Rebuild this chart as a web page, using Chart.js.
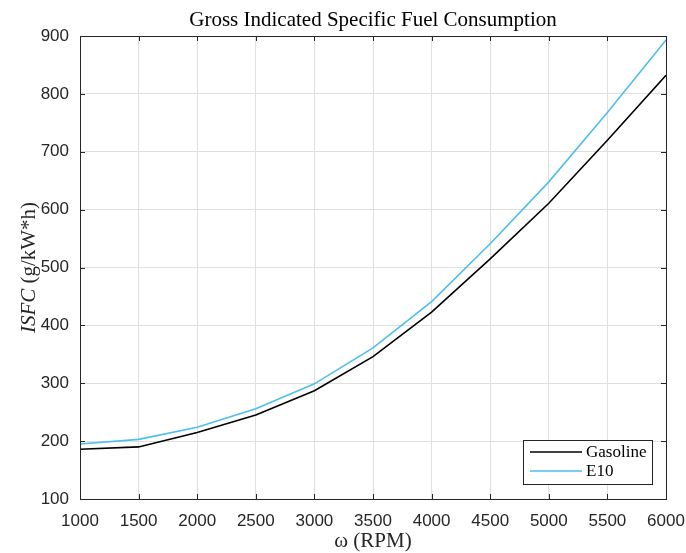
<!DOCTYPE html>
<html>
<head>
<meta charset="utf-8">
<script src="https://cdn.jsdelivr.net/npm/chart.js@4.4.1/dist/chart.umd.min.js"></script>
<style>
  html, body { margin: 0; padding: 0; background: #fff; }
  #wrap { width: 686px; height: 553px; position: relative; }
</style>
</head>
<body>
<div id="wrap"><canvas id="c" width="686" height="553"></canvas></div>
<script>
// Engine speed (RPM) and gross indicated specific fuel consumption (g/kW*h)
const rpm = [1000, 1500, 2000, 2500, 3000, 3500, 4000, 4500, 5000, 5500, 6000];
const gasolineIsfc = [186, 190, 215, 245, 287, 346, 423, 515, 611, 720, 832];
const e10Isfc = [195, 203, 224, 256, 299, 361, 441, 541, 648, 768, 893];
const xTicks = [1000, 1500, 2000, 2500, 3000, 3500, 4000, 4500, 5000, 5500, 6000];
const yTicks = [100, 200, 300, 400, 500, 600, 700, 800, 900];

const titleText = 'Gross Indicated Specific Fuel Consumption';
const axisColor = '#262626';
const gridColor = '#dfdfdf';
const serif = '"Liberation Serif", "Times New Roman", serif';
const sans = '"Liberation Sans", Arial, sans-serif';

// Title, axis titles, inward tick marks and the boxed legend
const decorations = {
  id: 'decorations',
  afterDraw(chart) {
    const ctx = chart.ctx;
    const a = chart.chartArea;
    const xs = chart.scales.x, ys = chart.scales.y;
    ctx.save();

    // inward ticks on all four sides
    ctx.strokeStyle = axisColor;
    ctx.lineWidth = 1;
    const tl = 5;
    ctx.beginPath();
    xTicks.forEach(v => {
      const px = Math.round(xs.getPixelForValue(v)) + 0.5;
      ctx.moveTo(px, a.bottom); ctx.lineTo(px, a.bottom - tl);
      ctx.moveTo(px, a.top); ctx.lineTo(px, a.top + tl);
    });
    yTicks.forEach(v => {
      const py = Math.round(ys.getPixelForValue(v)) + 0.5;
      ctx.moveTo(a.left, py); ctx.lineTo(a.left + tl, py);
      ctx.moveTo(a.right, py); ctx.lineTo(a.right - tl, py);
    });
    ctx.stroke();
    // axes box
    ctx.strokeRect(Math.round(a.left) + 0.5, Math.round(a.top) + 0.5,
                   Math.round(a.right - a.left), Math.round(a.bottom - a.top));

    // chart title
    ctx.fillStyle = '#000';
    ctx.font = '21px ' + serif;
    ctx.textAlign = 'center';
    ctx.textBaseline = 'alphabetic';
    ctx.fillText(titleText, (a.left + a.right) / 2, 26);

    // x axis title
    ctx.fillStyle = axisColor;
    ctx.font = '21px ' + serif;
    ctx.fillText('\u03c9 (RPM)', (a.left + a.right) / 2, 547);

    // y axis title: italic symbol followed by upright units
    ctx.save();
    ctx.translate(35, (a.top + a.bottom) / 2);
    ctx.rotate(-Math.PI / 2);
    const part1 = 'ISFC ';
    const part2 = '(g/kW*h)';
    ctx.font = 'italic 21px ' + serif;
    const w1 = ctx.measureText(part1).width;
    ctx.font = '21px ' + serif;
    const w2 = ctx.measureText(part2).width;
    const sx = -(w1 + w2) / 2;
    ctx.textAlign = 'left';
    ctx.font = 'italic 21px ' + serif;
    ctx.fillText(part1, sx, 0);
    ctx.font = '21px ' + serif;
    ctx.fillText(part2, sx + w1, 0);
    ctx.restore();

    // legend box in the lower right corner
    const lx = 523, ly = 440, lw = 129, lh = 44;
    ctx.fillStyle = '#fff';
    ctx.fillRect(lx, ly, lw, lh);
    ctx.strokeStyle = axisColor;
    ctx.lineWidth = 1;
    ctx.strokeRect(lx + 0.5, ly + 0.5, lw, lh);
    chart.data.datasets.forEach((ds, i) => {
      const yy = ly + 12 + i * 19;
      ctx.strokeStyle = ds.borderColor;
      ctx.lineWidth = 1.6;
      ctx.beginPath();
      ctx.moveTo(lx + 7, yy); ctx.lineTo(lx + 59, yy);
      ctx.stroke();
      ctx.fillStyle = '#000';
      ctx.font = '17px ' + serif;
      ctx.textAlign = 'left';
      ctx.textBaseline = 'middle';
      ctx.fillText(ds.label, lx + 63, yy + 1);
    });
    ctx.restore();
  }
};

new Chart(document.getElementById('c'), {
  type: 'line',
  data: {
    datasets: [
      {
        label: 'Gasoline',
        data: rpm.map((r, i) => ({ x: r, y: gasolineIsfc[i] })),
        borderColor: '#000000',
        borderWidth: 1.6,
        pointRadius: 0,
        tension: 0
      },
      {
        label: 'E10',
        data: rpm.map((r, i) => ({ x: r, y: e10Isfc[i] })),
        borderColor: '#4DBEEE',
        borderWidth: 1.6,
        pointRadius: 0,
        tension: 0
      }
    ]
  },
  options: {
    responsive: false,
    animation: false,
    devicePixelRatio: 1,
    layout: { padding: { top: 36, right: 20, left: 0, bottom: 0 } },
    plugins: {
      legend: { display: false },
      title: { display: false },
      tooltip: { enabled: false }
    },
    scales: {
      x: {
        type: 'linear',
        min: 1000,
        max: 6000,
        afterFit(s) { s.height = 54; s.paddingLeft = 0; s.paddingRight = 0; },
        afterBuildTicks(s) { s.ticks = xTicks.map(v => ({ value: v })); },
        grid: { color: gridColor, drawTicks: false },
        border: { display: false },
        ticks: {
          color: axisColor,
          font: { family: sans, size: 17 },
          padding: 12,
          maxRotation: 0,
          autoSkip: false,
          callback: v => String(v)
        }
      },
      y: {
        type: 'linear',
        min: 100,
        max: 900,
        afterFit(s) { s.width = 80; s.paddingTop = 0; s.paddingBottom = 0; },
        afterBuildTicks(s) { s.ticks = yTicks.map(v => ({ value: v })); },
        grid: { color: gridColor, drawTicks: false },
        border: { display: false },
        ticks: {
          color: axisColor,
          font: { family: sans, size: 17 },
          padding: 11,
          callback: v => String(v)
        }
      }
    }
  },
  plugins: [decorations]
});
</script>
</body>
</html>
